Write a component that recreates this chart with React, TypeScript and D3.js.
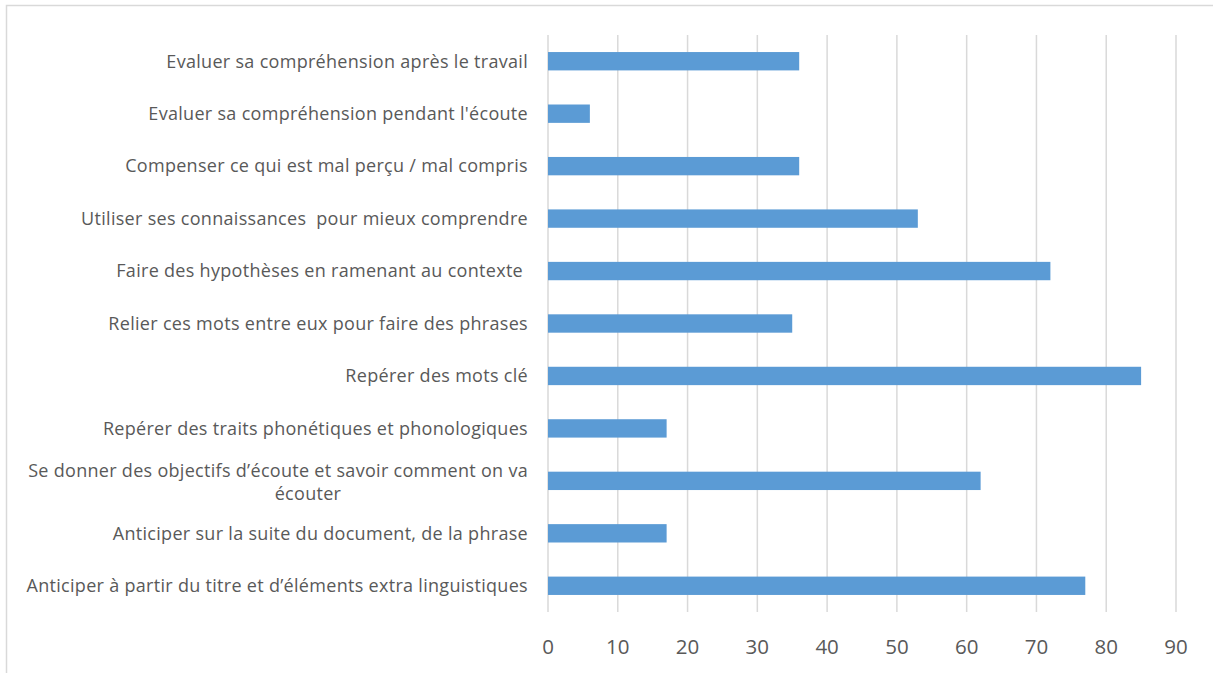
import React from "react";
import * as d3 from "d3";

const categories: string[][] = [
  ["Evaluer sa compréhension après le travail"],
  ["Evaluer sa compréhension pendant l'écoute"],
  ["Compenser ce qui est mal perçu / mal compris"],
  ["Utiliser ses connaissances  pour mieux comprendre"],
  ["Faire des hypothèses en ramenant au contexte "],
  ["Relier ces mots entre eux pour faire des phrases"],
  ["Repérer des mots clé"],
  ["Repérer des traits phonétiques et phonologiques"],
  ["Se donner des objectifs d’écoute et savoir comment on va", "écouter"],
  ["Anticiper sur la suite du document, de la phrase"],
  ["Anticiper à partir du titre et d’éléments extra linguistiques"],
];
const values: number[] = [36, 6, 36, 53, 72, 35, 85, 17, 62, 17, 77];
const ticks: number[] = [0, 10, 20, 30, 40, 50, 60, 70, 80, 90];

const W = 1213;
const H = 673;
const left = 548;
const right = 1176;
const top = 35;
const bottom = 612;
const font = "'Open Sans', 'Noto Sans', sans-serif";
const fs = 18;
const ls = 0.3;

export default function App() {
  const x = d3.scaleLinear().domain([0, 90]).range([left, right]);
  const y = d3
    .scaleBand<number>()
    .domain(d3.range(categories.length))
    .range([top, bottom])
    .paddingInner(0.65)
    .paddingOuter(0.325);
  return (
    <svg
      width={W}
      height={H}
      style={{ position: "absolute", left: 0, top: 0, background: "#fff" }}
    >
      <rect x={6.5} y={5.5} width={W + 20} height={H + 20} fill="#fff" stroke="#D9D9D9" strokeWidth={1.5} />
      {ticks.map((t) => (
        <line key={t} x1={x(t)} x2={x(t)} y1={top} y2={bottom} stroke="#D9D9D9" strokeWidth={1.5} />
      ))}
      {values.map((v, i) => (
        <rect key={i} x={x(0)} y={y(i)!} width={x(v) - x(0)} height={y.bandwidth()} fill="#5B9BD5" />
      ))}
      {categories.map((lines, i) => {
        const cy = (y(i) as number) + y.bandwidth() / 2;
        if (lines.length === 1) {
          return (
            <text key={i} x={528} y={cy} dy="0.35em" textAnchor="end" fontFamily={font} fontSize={fs} letterSpacing={ls} fill="#595959" style={{ whiteSpace: "pre" }}>
              {lines[0]}
            </text>
          );
        }
        return (
          <g key={i}>
            <text x={528} y={cy - 10} dy="0.35em" textAnchor="end" fontFamily={font} fontSize={fs} letterSpacing={ls} fill="#595959">
              {lines[0]}
            </text>
            <text x={308} y={cy + 13} dy="0.35em" textAnchor="middle" fontFamily={font} fontSize={fs} letterSpacing={ls} fill="#595959">
              {lines[1]}
            </text>
          </g>
        );
      })}
      {ticks.map((t) => (
        <text key={t} x={x(t)} y={647} dy="0.35em" textAnchor="middle" fontFamily={font} fontSize={20.5} fill="#595959">
          {t}
        </text>
      ))}
    </svg>
  );
}
